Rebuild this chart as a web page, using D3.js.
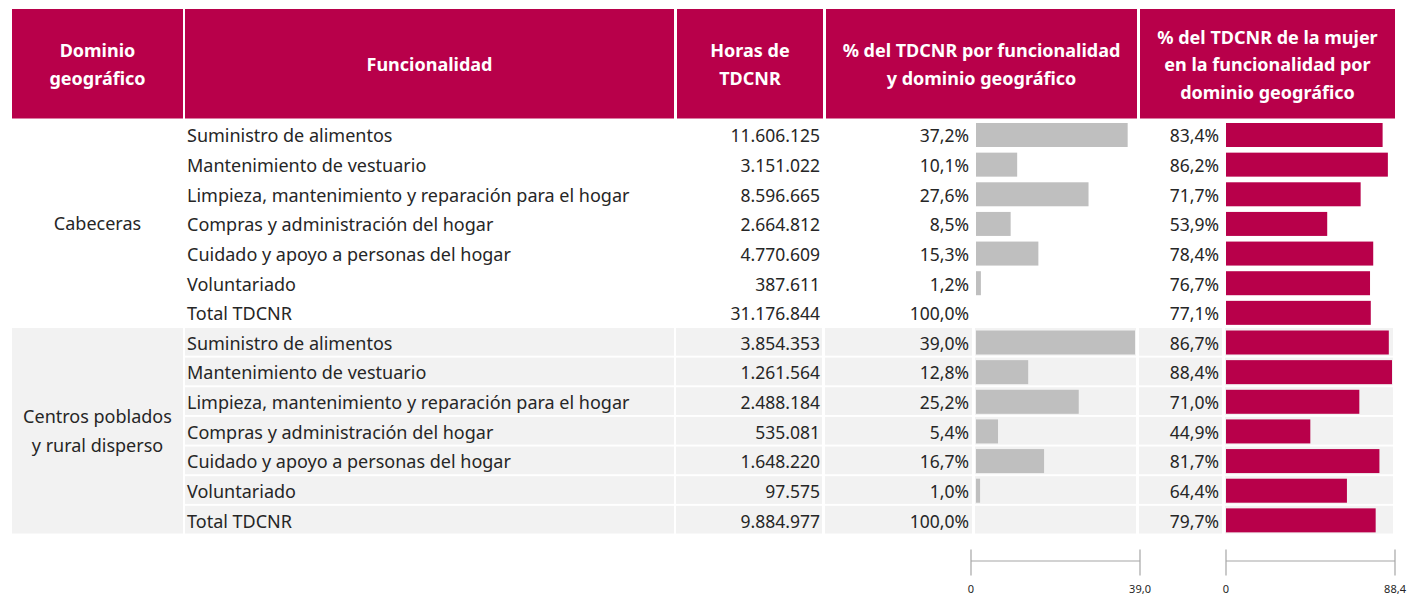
<!DOCTYPE html>
<html>
<head>
<meta charset="utf-8">
<script src="https://cdn.jsdelivr.net/npm/d3@7"></script>
<style>
    html, body { margin: 0; padding: 0; background: #fff; }
    svg { display: block; font-family: "Noto Sans", "Open Sans", sans-serif; }
    .hdr text { fill: #fff; font-weight: 700; font-size: 18px; }
    .body text { fill: #262626; font-size: 18px; }
    .body text.num { font-size: 17.5px; }
    .axis text { fill: #262626; font-size: 11px; }
    .axis path, .axis line { stroke: #a6a6a6; }
</style>
</head>
<body>
<svg id="chart" width="1407" height="596"></svg>
<script>
(function () {
    // --- data ---
    const domains = [["Cabeceras"], ["Centros poblados", "y rural disperso"]];
    const funcionalidades = [
        "Suministro de alimentos",
        "Mantenimiento de vestuario",
        "Limpieza, mantenimiento y reparación para el hogar",
        "Compras y administración del hogar",
        "Cuidado y apoyo a personas del hogar",
        "Voluntariado",
        "Total TDCNR"
    ];
    const horasCabeceras = [11606125, 3151022, 8596665, 2664812, 4770609, 387611, 31176844];
    const horasCentros = [3854353, 1261564, 2488184, 535081, 1648220, 97575, 9884977];
    const pctCabeceras = [37.2, 10.1, 27.6, 8.5, 15.3, 1.2, 100.0];
    const pctCentros = [39.0, 12.8, 25.2, 5.4, 16.7, 1.0, 100.0];
    const mujerCabeceras = [83.4, 86.2, 71.7, 53.9, 78.4, 76.7, 77.1];
    const mujerCentros = [86.7, 88.4, 71.0, 44.9, 81.7, 64.4, 79.7];
    const pctAxisTicks = [0, 39.0];
    const mujerAxisTicks = [0, 88.4];

    const headers = [
        { lines: ["Dominio", "geográfico"], x0: 12, x1: 183 },
        { lines: ["Funcionalidad"], x0: 185, x1: 674 },
        { lines: ["Horas de", "TDCNR"], x0: 677, x1: 823 },
        { lines: ["% del TDCNR por funcionalidad", "y dominio geográfico"], x0: 826, x1: 1137 },
        { lines: ["% del TDCNR de la mujer", "en la funcionalidad por", "dominio geográfico"], x0: 1140, x1: 1395 }
    ];

    // body cells (x ranges)
    const cols = {
        dom: [12, 183],
        func: [185, 674],
        horas: [676, 822],
        pctTxt: [825, 972],
        pctBar: [975, 1136],
        mujTxt: [1139, 1222],
        mujBar: [1225, 1393]
    };

    const crimson = "#b8004a";
    const locale = d3.formatLocale({ decimal: ",", thousands: ".", grouping: [3], currency: ["", ""] });
    const fmtInt = locale.format(",d");
    const fmtPct = v => locale.format(".1f")(v) + "%";
    const fmtTick = v => v === 0 ? "0" : locale.format(".1f")(v);

    const rows = [];
    domains.forEach((dom, gi) => {
        const horas = gi === 0 ? horasCabeceras : horasCentros;
        const pct = gi === 0 ? pctCabeceras : pctCentros;
        const muj = gi === 0 ? mujerCabeceras : mujerCentros;
        funcionalidades.forEach((f, i) => {
            rows.push({ group: gi, label: f, horas: horas[i], pct: pct[i], mujer: muj[i], total: i === funcionalidades.length - 1 });
        });
    });

    const svg = d3.select("#chart");

    const y = d3.scaleBand()
        .domain(d3.range(rows.length))
        .range([120.5, 535.5]);
    const rowH = y.bandwidth();

    const xPct = d3.scaleLinear().domain([0, d3.max(pctAxisTicks)]).range([976, 1135]);
    const xMuj = d3.scaleLinear().domain([0, d3.max(mujerAxisTicks)]).range([1226, 1392]);

    // header
    const hdr = svg.append("g").attr("class", "hdr");
    hdr.selectAll("rect")
        .data(headers)
        .enter().append("rect")
        .attr("x", d => d.x0)
        .attr("y", 9)
        .attr("width", d => d.x1 - d.x0)
        .attr("height", 109.5)
        .attr("fill", crimson);

    hdr.selectAll("text")
        .data(headers)
        .enter().append("text")
        .attr("text-anchor", "middle")
        .attr("dominant-baseline", "central")
        .each(function (d) {
            const n = d.lines.length;
            const t = d3.select(this);
            d.lines.forEach((line, i) => {
                t.append("tspan")
                    .attr("x", (d.x0 + d.x1) / 2)
                    .attr("y", 64 + (i - (n - 1) / 2) * 27.5)
                    .text(line);
            });
        });

    // body backgrounds (second group is shaded)
    const body = svg.append("g").attr("class", "body");
    const bodyCols = ["func", "horas", "pctTxt", "pctBar", "mujTxt", "mujBar"];
    const shaded = rows.map((r, i) => ({ r, i })).filter(d => d.r.group === 1);

    body.selectAll(".cell")
        .data(shaded.flatMap(d => bodyCols.map(c => ({ i: d.i, c }))))
        .enter().append("rect")
        .attr("class", "cell")
        .attr("x", d => cols[d.c][0])
        .attr("y", d => y(d.i))
        .attr("width", d => cols[d.c][1] - cols[d.c][0])
        .attr("height", rowH - 2)
        .attr("fill", "#f2f2f2");

    // domain cells
    domains.forEach((dom, gi) => {
        const idx = rows.map((r, i) => i).filter(i => rows[i].group === gi);
        const top = y(idx[0]);
        const bottom = y(idx[idx.length - 1]) + rowH - 2;
        if (gi === 1) {
            body.append("rect")
                .attr("x", cols.dom[0])
                .attr("y", top)
                .attr("width", cols.dom[1] - cols.dom[0])
                .attr("height", bottom - top)
                .attr("fill", "#f2f2f2");
        }
        const t = body.append("text")
            .attr("text-anchor", "middle")
            .attr("dominant-baseline", "central");
        dom.forEach((line, i) => {
            t.append("tspan")
                .attr("x", (cols.dom[0] + cols.dom[1]) / 2)
                .attr("y", (top + bottom) / 2 + (i - (dom.length - 1) / 2) * 29)
                .text(line);
        });
    });

    const rowG = body.selectAll(".row")
        .data(rows)
        .enter().append("g")
        .attr("class", "row")
        .attr("transform", (d, i) => `translate(0,${y(i)})`);

    const ty = (rowH - 2) / 2 + 1;

    rowG.append("text")
        .attr("x", cols.func[0] + 2)
        .attr("y", ty)
        .attr("dominant-baseline", "central")
        .text(d => d.label);

    rowG.append("text")
        .attr("class", "num")
        .attr("x", cols.horas[1] - 2)
        .attr("y", ty)
        .attr("text-anchor", "end")
        .attr("dominant-baseline", "central")
        .text(d => fmtInt(d.horas));

    rowG.append("text")
        .attr("class", "num")
        .attr("x", cols.pctTxt[1] - 3)
        .attr("y", ty)
        .attr("text-anchor", "end")
        .attr("dominant-baseline", "central")
        .text(d => fmtPct(d.pct));

    rowG.append("text")
        .attr("class", "num")
        .attr("x", cols.mujTxt[1] - 3)
        .attr("y", ty)
        .attr("text-anchor", "end")
        .attr("dominant-baseline", "central")
        .text(d => fmtPct(d.mujer));

    rowG.filter(d => !d.total)
        .append("rect")
        .attr("x", xPct(0))
        .attr("y", 2.5)
        .attr("width", d => xPct(d.pct) - xPct(0))
        .attr("height", 24)
        .attr("fill", "#bfbfbf");

    rowG.append("rect")
        .attr("x", xMuj(0))
        .attr("y", 2.5)
        .attr("width", d => xMuj(d.mujer) - xMuj(0))
        .attr("height", 24)
        .attr("fill", crimson);

    // axes
    function drawAxis(ticks, x0, x1) {
        const s = d3.scaleLinear().domain([0, d3.max(ticks)]).range([x0, x1]);
        const g = svg.append("g")
            .attr("class", "axis")
            .attr("transform", "translate(0,560.5)")
            .call(d3.axisBottom(s).tickValues(ticks).tickFormat(fmtTick).tickSizeInner(15).tickSizeOuter(0).tickPadding(10));
        g.select(".domain").attr("stroke-width", 1.2);
        g.selectAll(".tick line").attr("y1", -11).attr("stroke-width", 1.2);
        g.selectAll(".tick text").attr("font-family", "Noto Sans, sans-serif");
    }
    drawAxis(pctAxisTicks, 970.5, 1139.5);
    drawAxis(mujerAxisTicks, 1225.5, 1394.5);
})();
</script>
</body>
</html>
